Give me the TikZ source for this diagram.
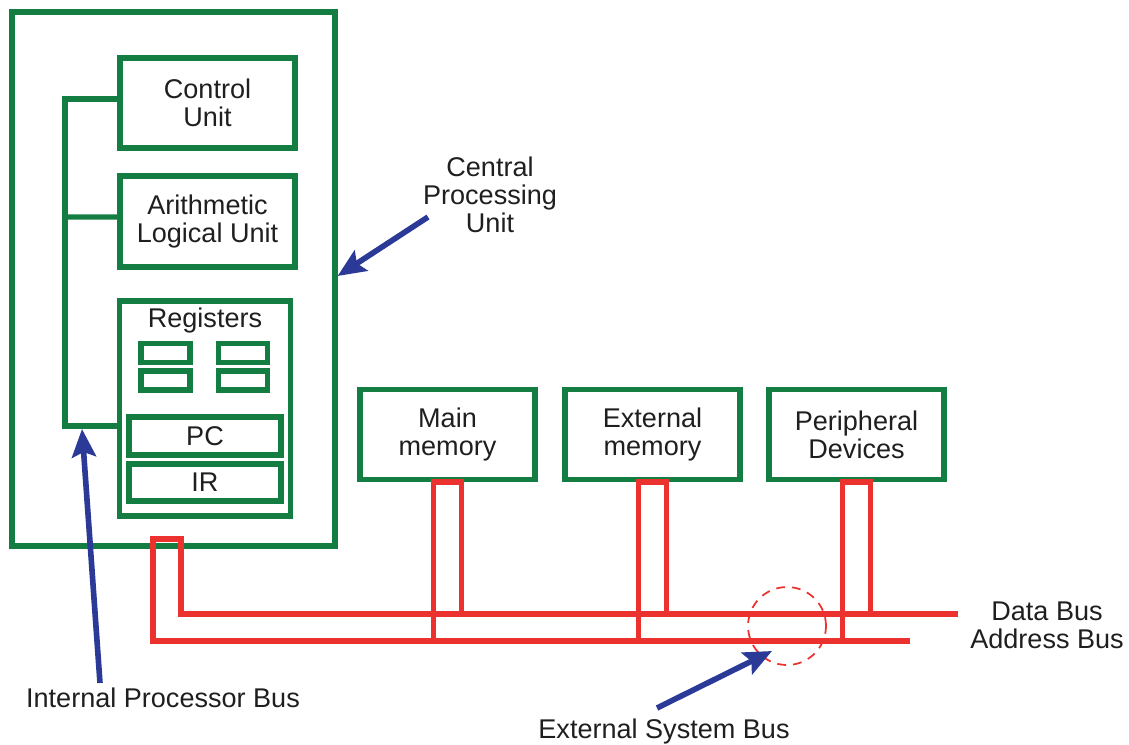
\documentclass[tikz,border=0pt]{standalone}
\usepackage{fontspec}
\setmainfont{Liberation Sans}
\usetikzlibrary{arrows.meta}

\definecolor{cpugreen}{RGB}{20,126,66}
\definecolor{busred}{RGB}{236,50,46}
\definecolor{arrblue}{RGB}{42,58,150}

\begin{document}
\begin{tikzpicture}[x=0.02cm, y=-0.02cm,
  every node/.style={font=\fontsize{15.4}{16}\selectfont, text=black!88},
  box/.style={draw=cpugreen, line width=3pt, inner sep=0pt, align=center},
  unit/.style={box, minimum width=3.5cm, minimum height=1.8cm},
  reg/.style={draw=cpugreen, line width=3pt, minimum width=0.98cm, minimum height=0.38cm, inner sep=0pt},
  wire/.style={draw=cpugreen, line width=3pt},
  bus/.style={draw=busred, line width=3pt},
  arr/.style={-{Stealth[length=0.56cm, width=0.48cm, inset=0.1cm]}, draw=arrblue, line width=3.2pt}
]
  \useasboundingbox (0,0) rectangle (1129,744);

  % processor
  \node[box, minimum width=6.46cm, minimum height=10.68cm] (cpu) at (173.5,279) {};
  \node[unit] (ctrl) at (207.5,103)   {Control\\Unit};
  \node[unit, minimum height=1.82cm] (alu) at (207.5,221.5) {Arithmetic\\Logical Unit};
  \node[box, minimum width=3.42cm, minimum height=4.3cm] (regs) at (205,408.5) {};
  \node (reglbl) at (205,320) {Registers};
  \node[reg] (r1) at (165.5,353)   {};
  \node[reg] (r2) at (165.5,380.5) {};
  \node[reg] (r3) at (243,353)     {};
  \node[reg] (r4) at (243,380.5)   {};
  \node[box, minimum width=3.04cm, minimum height=0.76cm] (pc) at (205,436)   {PC};
  \node[box, minimum width=3.04cm, minimum height=0.74cm] (ir) at (205,482.5) {IR};

  % internal bus
  \coordinate (ibusT) at (65,99);
  \coordinate (ibusB) at (65,426);
  \draw[wire] ([yshift=0.08cm]ctrl.west) -| (ibusB) -- (regs.west |- ibusB);
  \draw[wire] ([yshift=0.09cm]alu.west) -- (ibusT |- 0,217);

  % devices
  \node[unit] (mainmem) at (447.5,434.5) {Main\\memory};
  \node[unit] (extmem)  at (652.5,434.5) {External\\memory};
  \node[unit] (periph)  at (856.5,434.5) {Peripheral\\Devices};

  % system bus
  \coordinate (addrL) at (153,641);
  \coordinate (addrR) at (910,641);
  \coordinate (dataL) at (181,614);
  \coordinate (dataR) at (958,614);
  \draw[bus] (addrR) -| (153,539) -| (dataL) -- (dataR);
  \foreach \dev in {mainmem, extmem, periph} {
    \draw[bus] ([xshift=-0.28cm]\dev.south |- addrL) -- ([xshift=-0.28cm]\dev.south)
      -- ([xshift=0.28cm]\dev.south) -- ([xshift=0.28cm]\dev.south |- dataL);
  }
  \node[draw=busred, dash pattern=on 5pt off 4pt, line width=1pt,
        circle, minimum size=1.56cm] (zoomring) at (787,626) {};

  % labels
  \node[align=center] (cpulbl) at (490,195) {Central\\Processing\\Unit};
  \node[align=center] (buslbl) at (1047,625) {Data Bus\\Address Bus};
  \node (ipblbl) at (163,698) {Internal Processor Bus};
  \node (esblbl) at (664,731) {External System Bus};

  \coordinate (cpuTail) at (428,217);
  \coordinate (ipbTail) at (100,683);
  \coordinate (ipbTip)  at (82,429);
  \coordinate (esbTail) at (657,708);
  \coordinate (esbTip)  at (772,651);
  \draw[arr] (cpuTail) -- (cpu.east |- 0,276);
  \draw[arr] (ipbTail) -- (ipbTip);
  \draw[arr] (esbTail) -- (esbTip);
\end{tikzpicture}
\end{document}
